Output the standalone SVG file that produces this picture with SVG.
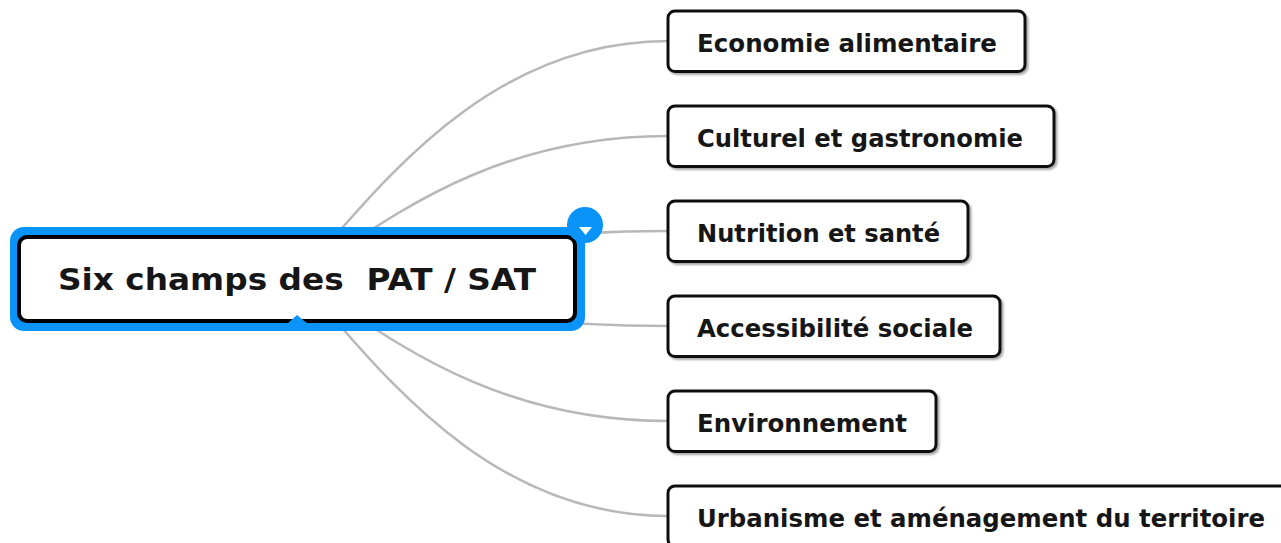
<svg xmlns="http://www.w3.org/2000/svg" width="1281" height="543" viewBox="0 0 1281 543">
  <defs>
    <filter id="shadow" x="-5%" y="-20%" width="115%" height="150%">
      <feDropShadow dx="2" dy="2" stdDeviation="1.2" flood-color="#000" flood-opacity="0.35"/>
    </filter>
    <style>
      .conn { fill: none; stroke: #b8b8b8; stroke-width: 2.5; stroke-linecap: round; }
      .box { fill: #ffffff; stroke: #111111; stroke-width: 3; }
      .lbl { font-family: "DejaVu Sans", Verdana, sans-serif; font-weight: bold; font-size: 24px; fill: #161616; }
      .root-lbl { font-family: "DejaVu Sans", Verdana, sans-serif; font-weight: bold; font-size: 31px; fill: #161616; white-space: pre; }
      .blue { fill: #0a94fa; }
    </style>
  </defs>
  <rect width="1281" height="543" fill="#ffffff"/>

  <g id="connectors">
    <path class="conn" d="M298,278 C370,200 480,41 668,41"/>
    <path class="conn" d="M298,278 C375,231 480,136 668,136"/>
    <path class="conn" d="M298,278 C380,262 480,231 668,231"/>
    <path class="conn" d="M298,278 C380,294 480,326 668,326"/>
    <path class="conn" d="M298,278 C375,325 480,421 668,421"/>
    <path class="conn" d="M298,278 C370,356 480,516 668,516"/>
  </g>

  <g id="root">
    <rect class="blue" x="10" y="227" width="575" height="104" rx="14"/>
    <rect x="19" y="237" width="556" height="84" rx="8" fill="#ffffff" stroke="#000000" stroke-width="4"/>
    <polygon class="blue" points="297,315 287,324 308,324"/>
    <circle class="blue" cx="585" cy="225" r="18"/>
    <polygon points="579,227 592,227 585.5,235" fill="#ffffff"/>
    <text class="root-lbl" x="58" y="290" textLength="478" lengthAdjust="spacingAndGlyphs">Six champs des  PAT / SAT</text>
  </g>

  <g id="n1">
    <rect class="box" x="668" y="11" width="357" height="60.5" rx="7" filter="url(#shadow)"/>
    <text class="lbl" x="697" y="51.5" textLength="300" lengthAdjust="spacingAndGlyphs">Economie alimentaire</text>
  </g>
  <g id="n2">
    <rect class="box" x="668" y="106" width="386" height="60.5" rx="7" filter="url(#shadow)"/>
    <text class="lbl" x="697" y="146.5" textLength="326" lengthAdjust="spacingAndGlyphs">Culturel et gastronomie</text>
  </g>
  <g id="n3">
    <rect class="box" x="668" y="201" width="300" height="60.5" rx="7" filter="url(#shadow)"/>
    <text class="lbl" x="697" y="241.5" textLength="243" lengthAdjust="spacingAndGlyphs">Nutrition et santé</text>
  </g>
  <g id="n4">
    <rect class="box" x="668" y="296" width="332" height="60.5" rx="7" filter="url(#shadow)"/>
    <text class="lbl" x="697" y="336.5" textLength="276" lengthAdjust="spacingAndGlyphs">Accessibilité sociale</text>
  </g>
  <g id="n5">
    <rect class="box" x="668" y="391" width="268" height="60.5" rx="7" filter="url(#shadow)"/>
    <text class="lbl" x="697" y="431.5" textLength="210" lengthAdjust="spacingAndGlyphs">Environnement</text>
  </g>
  <g id="n6">
    <rect class="box" x="668" y="486" width="626" height="60.5" rx="7" filter="url(#shadow)"/>
    <text class="lbl" x="697" y="526.5" textLength="568" lengthAdjust="spacingAndGlyphs">Urbanisme et aménagement du territoire</text>
  </g>
</svg>
